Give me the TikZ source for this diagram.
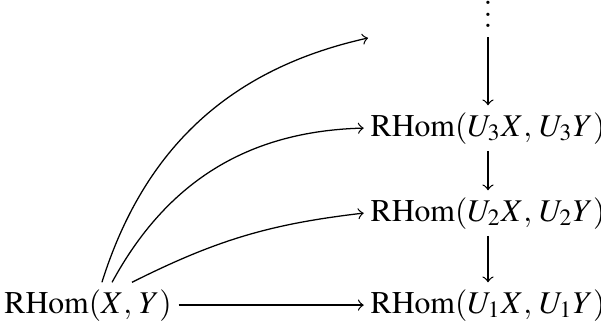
\documentclass[tikz,border=0pt]{standalone}
\usepackage{mathptmx}
\newcommand{\cmsep}{,\mskip2mu}
\begin{document}
\begin{tikzpicture}[x=0.316pt,y=0.316pt,
  obj/.style={inner sep=2pt,text height=7.5pt,text depth=2.5pt,font=\fontsize{10}{12}\selectfont},
  arr/.style={->,line width=0.4pt}]
\useasboundingbox (0,0) rectangle (601,322);
\node[obj,anchor=base] (A) at (88,9) {$\mathrm{RHom}(X\cmsep Y)$};
\node[obj,anchor=base] (B1) at (488,9) {$\mathrm{RHom}(U_1X\cmsep U_1Y)$};
\node[obj,anchor=base] (B2) at (488,101) {$\mathrm{RHom}(U_2X\cmsep U_2Y)$};
\node[obj,anchor=base] (B3) at (488,186) {$\mathrm{RHom}(U_3X\cmsep U_3Y)$};
\node[anchor=south,inner sep=0pt,font=\fontsize{10}{12}\selectfont] (V) at (488,294)
  {\vbox{\offinterlineskip\hbox{.}\kern2.5pt\hbox{.}\kern2.5pt\hbox{.}}};
\coordinate (T) at (368,284);
\draw[arr] (A) -- (B1);
\draw[arr,shorten <=3pt] (V.south) -- (B3.north);
\draw[arr] (B3) -- (B2);
\draw[arr] (B2) -- (B1);
\draw[arr] ([xshift=4.4pt]A.north) to[bend left=30] (T);
\draw[arr] ([xshift=7.6pt]A.north) to[bend left=30] (B3.west);
\draw[arr] ([xshift=13.9pt]A.north) to[bend left=10] (B2.west);
\end{tikzpicture}
\end{document}
